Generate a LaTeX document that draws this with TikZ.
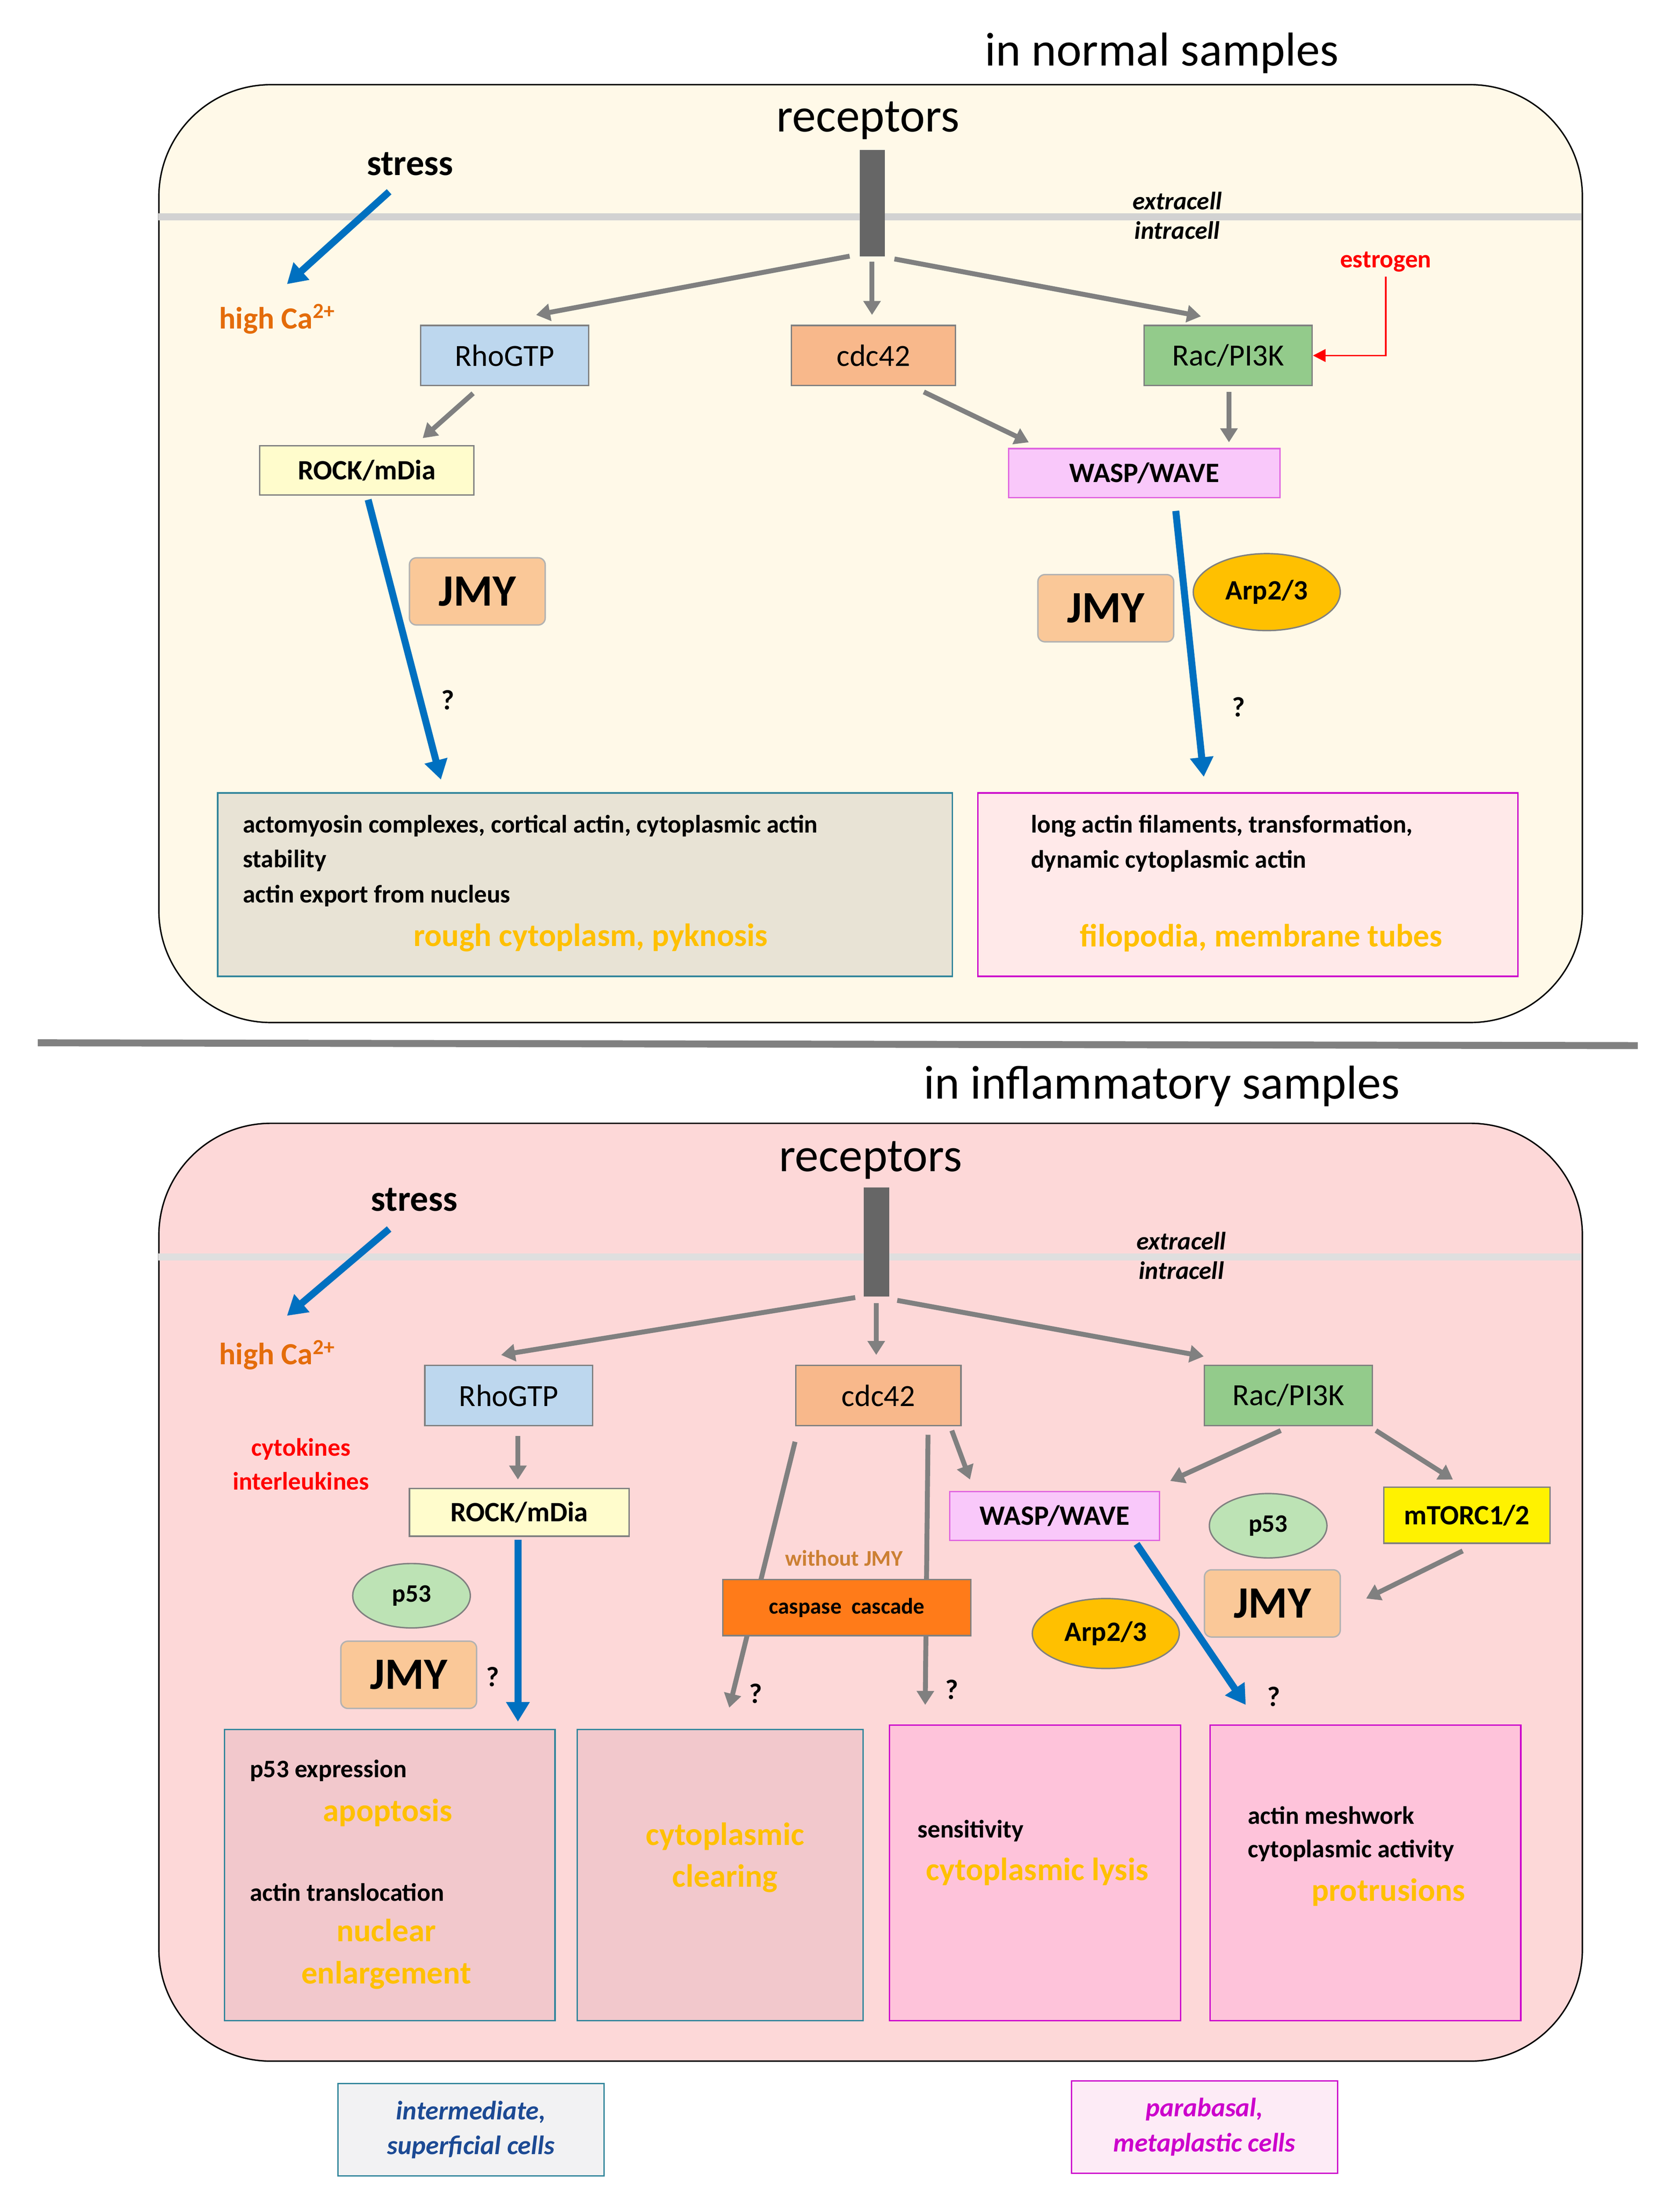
\documentclass[tikz,border=0pt]{standalone}
\usepackage{fontspec}
\setmainfont{Carlito}
\usetikzlibrary{arrows.meta,shapes.geometric}
\definecolor{gArr}{HTML}{808080}
\definecolor{bArr}{HTML}{0070C0}
\definecolor{orT}{HTML}{E46C0A}
\definecolor{gold}{HTML}{FFC000}
\definecolor{bBord}{HTML}{31859B}
\definecolor{mBord}{HTML}{CC00CC}
\definecolor{cream}{HTML}{FFF9E8}
\definecolor{rose}{HTML}{FDD8D8}
\definecolor{boxA}{HTML}{F2C8CC}
\definecolor{boxB}{HTML}{FEC3DA}
\definecolor{lblue}{HTML}{BDD7EE}
\definecolor{peach}{HTML}{F8B88B}
\definecolor{lgreen}{HTML}{93CB8B}
\definecolor{jmyc}{HTML}{FAC898}
\definecolor{pgreen}{HTML}{BDE3B5}
\definecolor{wasp}{HTML}{F9C8FA}
\tikzset{
 fs/.style={font=\fontsize{#1}{#1}\selectfont},
 ga/.style={draw=gArr,line width=3.5pt,-{Triangle[length=10pt,width=12pt]}},
 ba/.style={draw=bArr,line width=5pt,-{Triangle[length=14pt,width=16pt]}},
 bx/.style={draw=gray,line width=1pt,inner sep=0pt,anchor=north west},
 jmy/.style={draw=gray!60,fill=#1,rounded corners=5pt,line width=1pt,anchor=north west,minimum width=97pt,minimum height=48pt,font=\bfseries\fontsize{32}{32}\selectfont},
 ell/.style={ellipse,draw=gray,fill=#1,line width=1pt,inner sep=0pt},
 gt/.style={text=gold,font=\bfseries\fontsize{23}{30}\selectfont,align=center},
 q/.style={font=\bfseries\fontsize{20}{20}\selectfont},
 sm/.style={font=\bfseries\fontsize{18}{18}\selectfont,anchor=west},
}
\begin{document}
\begin{tikzpicture}[x=1pt,y=-1pt]
\useasboundingbox (0,0) rectangle (1200,1571);
\fill[white] (0,0) rectangle (1200,1571);
% ===== top panel
\node[fs=34] (t1) at (830,38) {in normal samples};
\node[draw=black,line width=1pt,fill=cream,rounded corners=80pt,minimum width=1017pt,minimum height=670pt,anchor=north west] (p1) at (113,60) {};
\draw[gray!35,line width=5pt] (113,155) coordinate(m1a) -- (1130,155) coordinate(m1b);
\node[fs=34] (rc1) at (620,86) {receptors};
\node[fill=black!60,minimum width=18pt,minimum height=76pt,inner sep=0pt,anchor=north west] (bar1) at (614,107) {};
\node[font=\bfseries\fontsize{26}{26}\selectfont] (st1) at (293,117) {stress};
\coordinate (st1a) at (278,137); \coordinate (ca1a) at (205,203);
\draw[ba] (st1a) -- (ca1a);
\node[text=orT,font=\bfseries\fontsize{22}{22}\selectfont] (ca1) at (198,228) {high Ca\textsuperscript{2+}};
\node[font=\bfseries\itshape\fontsize{18}{18}\selectfont,align=center] (ex1) at (841,154) {extracell\\[3pt]intracell};
\node[text=red,font=\bfseries\fontsize{18}{18}\selectfont] (es) at (990,187) {estrogen};
\node[bx,fill=lblue,minimum width=120pt,minimum height=43pt,fs=22] (rho1) at (300,232) {RhoGTP};
\node[bx,fill=peach,minimum width=117pt,minimum height=43pt,fs=22] (cdc1) at (565,232) {cdc42};
\node[bx,fill=lgreen,minimum width=120pt,minimum height=43pt,fs=22] (rac1) at (817,232) {Rac/PI3K};
\draw[red,line width=1.2pt,-{Triangle[length=9pt,width=9pt]}] (es.south) |- (rac1.east);
\coordinate (a1s) at (607,183); \coordinate (a1e) at (383,225);
\coordinate (a2s) at (623,187); \coordinate (a2e) at (623,225);
\coordinate (a3s) at (639,185); \coordinate (a3e) at (858,226);
\draw[ga] (a1s) -- (a1e);
\draw[ga] (a2s) -- (a2e);
\draw[ga] (a3s) -- (a3e);
\node[bx,fill=yellow!20,minimum width=153pt,minimum height=35pt,font=\bfseries\fontsize{20}{20}\selectfont] (rock1) at (185,318) {ROCK/mDia};
\node[bx,draw=mBord!60,fill=wasp,minimum width=194pt,minimum height=35pt,font=\bfseries\fontsize{20}{20}\selectfont] (wasp1) at (720,320) {WASP/WAVE};
\coordinate (b1s) at (338,281); \coordinate (b1e) at (302,313);
\coordinate (b2s) at (660,280); \coordinate (b2e) at (735,316);
\coordinate (b3s) at (878,280); \coordinate (b3e) at (878,316);
\draw[ga] (b1s) -- (b1e);
\draw[ga] (b2s) -- (b2e);
\draw[ga] (b3s) -- (b3e);
\node[jmy=jmyc] (j1) at (292,398) {JMY};
\node[jmy=jmyc] (j2) at (741,410) {JMY};
\node[ell=gold,minimum width=105pt,minimum height=55pt,font=\bfseries\fontsize{20}{20}\selectfont] (arp1) at (905,423) {Arp2/3};
\node[bx,draw=bBord,fill=gray!18!cream,minimum width=525pt,minimum height=131pt] (b1) at (155,566) {};
\node[bx,draw=mBord,fill=pink!35,minimum width=386pt,minimum height=131pt] (b2) at (698,566) {};
\coordinate (c1s) at (263,357); \coordinate (c1e) at (315,557);
\coordinate (c2s) at (840,365); \coordinate (c2e) at (860,555);
\draw[ba] (c1s) -- (c1e);
\draw[ba] (c2s) -- (c2e);
\node[q] (q1) at (320,500) {?};
\node[q] (q2) at (885,505) {?};
\node[sm] (t1a) at (170,590) {actomyosin complexes, cortical actin, cytoplasmic actin};
\node[sm] (t1b) at (170,615) {stability};
\node[sm] (t1c) at (170,640) {actin export from nucleus};
\node[gt] (g1) at (422,670) {rough cytoplasm, pyknosis};
\node[sm] (t2a) at (733,590) {long actin filaments, transformation,};
\node[sm] (t2b) at (733,615) {dynamic cytoplasmic actin};
\node[gt] (g2) at (901,670) {filopodia, membrane tubes};
% divider
\draw[gray,line width=5pt] (27,745) coordinate(d1) -- (1170,747) coordinate(d2);
% ===== bottom panel
\node[fs=34] (t2) at (830,776) {in inflammatory samples};
\node[draw=black,line width=1pt,fill=rose,rounded corners=80pt,minimum width=1017pt,minimum height=670pt,anchor=north west] (p2) at (113,802) {};
\draw[gray!25,line width=5pt] (113,898) coordinate(m2a) -- (1130,898) coordinate(m2b);
\node[fs=34] (rc2) at (622,829) {receptors};
\node[fill=black!60,minimum width=18pt,minimum height=78pt,inner sep=0pt,anchor=north west] (bar2) at (617,848) {};
\node[font=\bfseries\fontsize{26}{26}\selectfont] (st2) at (296,857) {stress};
\coordinate (st2a) at (278,878); \coordinate (ca2a) at (205,940);
\draw[ba] (st2a) -- (ca2a);
\node[text=orT,font=\bfseries\fontsize{22}{22}\selectfont] (ca2) at (198,968) {high Ca\textsuperscript{2+}};
\node[font=\bfseries\itshape\fontsize{18}{18}\selectfont,align=center] (ex2) at (844,897) {extracell\\[3pt]intracell};
\node[bx,fill=lblue,minimum width=120pt,minimum height=43pt,fs=22] (rho2) at (303,975) {RhoGTP};
\node[bx,fill=peach,minimum width=118pt,minimum height=43pt,fs=22] (cdc2) at (568,975) {cdc42};
\node[bx,fill=lgreen,minimum width=120pt,minimum height=43pt,fs=22] (rac2) at (860,975) {Rac/PI3K};
\coordinate (e1s) at (611,927); \coordinate (e1e) at (358,968);
\coordinate (e2s) at (626,931); \coordinate (e2e) at (626,968);
\coordinate (e3s) at (641,929); \coordinate (e3e) at (860,969);
\draw[ga] (e1s) -- (e1e);
\draw[ga] (e2s) -- (e2e);
\draw[ga] (e3s) -- (e3e);
\node[text=red,font=\bfseries\fontsize{18}{24}\selectfont,align=center] (cyt) at (215,1046) {cytokines\\interleukines};
\node[bx,fill=yellow!20,minimum width=157pt,minimum height=34pt,font=\bfseries\fontsize{20}{20}\selectfont] (rock2) at (292,1063) {ROCK/mDia};
\coordinate (f1s) at (370,1026); \coordinate (f1e) at (370,1057);
\draw[ga] (f1s) -- (f1e);
\node[bx,draw=mBord!60,fill=wasp,minimum width=150pt,minimum height=35pt,font=\bfseries\fontsize{20}{20}\selectfont] (wasp2) at (678,1065) {WASP/WAVE};
\node[text=brown!80!orange,font=\bfseries\fontsize{16}{16}\selectfont] (wj) at (603,1113) {without JMY};
\node[bx,fill=yellow,minimum width=119pt,minimum height=40pt,font=\bfseries\fontsize{20}{20}\selectfont] (mt) at (988,1062) {mTORC1/2};
\node[ell=pgreen,minimum width=84pt,minimum height=46pt,font=\bfseries\fontsize{18}{18}\selectfont] (p53a) at (294,1140) {p53};
\node[jmy=jmyc] (j3) at (243,1172) {JMY};
\node[ell=pgreen,minimum width=84pt,minimum height=46pt,font=\bfseries\fontsize{18}{18}\selectfont] (p53b) at (906,1090) {p53};
\node[jmy=jmyc] (j4) at (860,1121) {JMY};
\node[ell=gold,minimum width=105pt,minimum height=50pt,font=\bfseries\fontsize{20}{20}\selectfont] (arp2) at (790,1167) {Arp2/3};
\node[bx,draw=bBord,fill=boxA,minimum width=236pt,minimum height=208pt] (c1) at (160,1235) {};
\node[bx,draw=bBord,fill=boxA,minimum width=204pt,minimum height=208pt] (c2) at (412,1235) {};
\node[bx,draw=mBord,fill=boxB,minimum width=208pt,minimum height=211pt] (c3) at (635,1232) {};
\node[bx,draw=mBord,fill=boxB,minimum width=222pt,minimum height=211pt] (c4) at (864,1232) {};
\coordinate (g1s) at (370,1100); \coordinate (g1e) at (370,1230);
\draw[ba] (g1s) -- (g1e);
\coordinate (h1s) at (568,1030); \coordinate (h1e) at (521,1220);
\coordinate (h2s) at (663,1025); \coordinate (h2e) at (661,1218);
\coordinate (h3s) at (680,1022); \coordinate (h3e) at (693,1057);
\coordinate (h4s) at (915,1022); \coordinate (h4e) at (836,1058);
\coordinate (h5s) at (983,1022); \coordinate (h5e) at (1038,1057);
\coordinate (h6s) at (1045,1108); \coordinate (h6e) at (976,1142);
\draw[ga] (h1s) -- (h1e);
\draw[ga] (h2s) -- (h2e);
\draw[ga] (h3s) -- (h3e);
\draw[ga] (h4s) -- (h4e);
\draw[ga] (h5s) -- (h5e);
\draw[ga] (h6s) -- (h6e);
\node[bx,fill=orange!85!red!90,minimum width=177pt,minimum height=40pt,font=\bfseries\fontsize{16}{16}\selectfont] (casp) at (516,1128) {caspase\ \ cascade};
\coordinate (k1s) at (812,1103); \coordinate (k1e) at (890,1218);
\draw[ba] (k1s) -- (k1e);
\node[q] (q3) at (352,1198) {?};
\node[q] (q4) at (540,1210) {?};
\node[q] (q5) at (680,1207) {?};
\node[q] (q6) at (910,1212) {?};
\node[sm] (u1) at (175,1265) {p53 expression};
\node[gt] (u2) at (277,1295) {apoptosis};
\node[sm] (u3) at (175,1352) {actin translocation};
\node[gt] (u4) at (276,1396) {nuclear\\enlargement};
\node[gt] (u5) at (518,1327) {cytoplasmic\\clearing};
\node[sm] (u6) at (652,1308) {sensitivity};
\node[gt] (u7) at (741,1337) {cytoplasmic lysis};
\node[sm] (u8) at (888,1297) {actin meshwork};
\node[sm] (u9) at (888,1322) {cytoplasmic activity};
\node[gt] (u10) at (992,1352) {protrusions};
\node[bx,draw=bBord,fill=blue!5!gray!10,minimum width=190pt,minimum height=66pt,text=bBord!70!blue!80!black,font=\bfseries\itshape\fontsize{19}{25}\selectfont,align=center] (l1) at (241,1488) {intermediate,\\superficial cells};
\node[bx,draw=mBord,fill=magenta!8,minimum width=190pt,minimum height=66pt,text=mBord,font=\bfseries\itshape\fontsize{19}{25}\selectfont,align=center] (l2) at (765,1486) {parabasal,\\metaplastic cells};
\end{tikzpicture}
\end{document}
